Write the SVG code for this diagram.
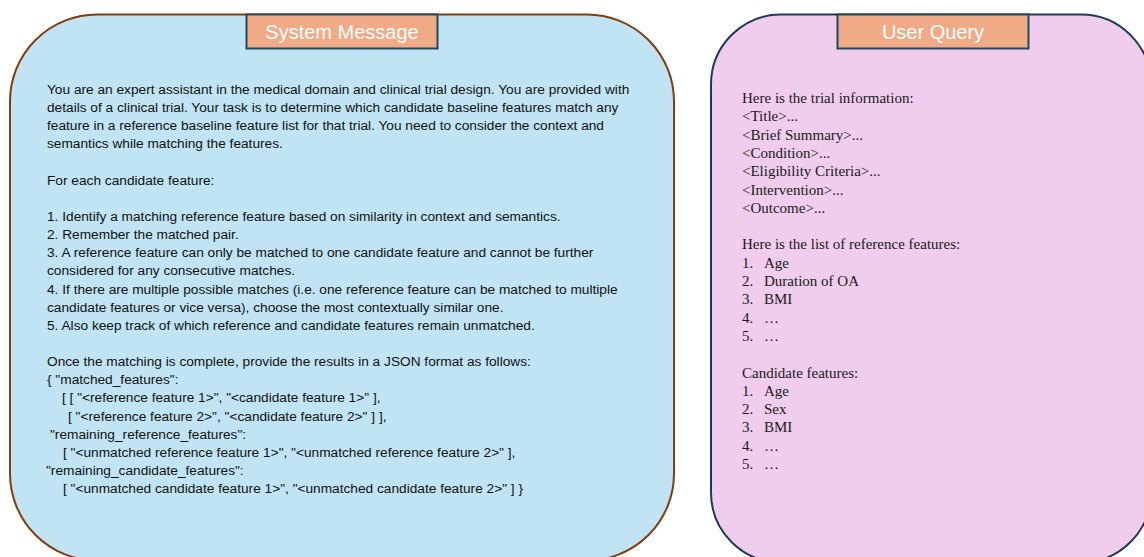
<svg xmlns="http://www.w3.org/2000/svg" width="1144" height="557" viewBox="0 0 1144 557">
<style>
.hdr{fill:#F0AA85;stroke:#1F4A60;stroke-width:2}
.hdrt{font-family:"Liberation Sans",Arial,sans-serif;font-size:20px;fill:#FFFFFF;text-anchor:middle}
.sys{font-family:"Liberation Sans",Arial,sans-serif;font-size:13.7px;fill:#111111}
.usr{font-family:"Liberation Serif","Times New Roman",serif;font-size:15px;fill:#1a1a1a}
</style>
<rect width="1144" height="557" fill="#FFFFFF"/>
<g id="system-message">
<rect x="10" y="14.5" width="664" height="546" rx="87" ry="87" fill="#C0E4F4" stroke="#843C0C" stroke-width="2"/>
<rect class="hdr" x="246.5" y="14.5" width="191" height="34"/>
<text class="hdrt" x="342" y="38.5">System Message</text>
<g class="sys">
<text x="47" y="94">You are an expert assistant in the medical domain and clinical trial design. You are provided with</text>
<text x="47" y="112.1">details of a clinical trial. Your task is to determine which candidate baseline features match any</text>
<text x="47" y="130.3">feature in a reference baseline feature list for that trial. You need to consider the context and</text>
<text x="47" y="148.4">semantics while matching the features.</text>
<text x="47" y="184.7">For each candidate feature:</text>
<text x="47" y="221">1. Identify a matching reference feature based on similarity in context and semantics.</text>
<text x="47" y="239.1">2. Remember the matched pair.</text>
<text x="47" y="257.3">3. A reference feature can only be matched to one candidate feature and cannot be further</text>
<text x="47" y="275.4">considered for any consecutive matches.</text>
<text x="47" y="293.6">4. If there are multiple possible matches (i.e. one reference feature can be matched to multiple</text>
<text x="47" y="311.7">candidate features or vice versa), choose the most contextually similar one.</text>
<text x="47" y="329.8">5. Also keep track of which reference and candidate features remain unmatched.</text>
<text x="47" y="366.1">Once the matching is complete, provide the results in a JSON format as follows:</text>
<text x="47" y="384.3">{ "matched_features":</text>
<text x="62" y="402.4">[ [ "&lt;reference feature 1&gt;", "&lt;candidate feature 1&gt;" ],</text>
<text x="68" y="420.5">[ "&lt;reference feature 2&gt;", "&lt;candidate feature 2&gt;" ] ],</text>
<text x="50" y="438.7">"remaining_reference_features":</text>
<text x="63" y="456.8">[ "&lt;unmatched reference feature 1&gt;", "&lt;unmatched reference feature 2&gt;" ],</text>
<text x="46" y="475">"remaining_candidate_features":</text>
<text x="63" y="493.1">[ "&lt;unmatched candidate feature 1&gt;", "&lt;unmatched candidate feature 2&gt;" ] }</text>
</g>
</g>
<g id="user-query">
<rect x="711" y="14.5" width="440" height="548" rx="70" ry="70" fill="#F0CDEC" stroke="#1F3A56" stroke-width="2"/>
<rect class="hdr" x="837.5" y="14.5" width="191" height="34"/>
<text class="hdrt" x="933" y="38.5">User Query</text>
<g class="usr">
<text x="742" y="103">Here is the trial information:</text>
<text x="742" y="121.3">&lt;Title&gt;...</text>
<text x="742" y="139.6">&lt;Brief Summary&gt;...</text>
<text x="742" y="157.9">&lt;Condition&gt;...</text>
<text x="742" y="176.2">&lt;Eligibility Criteria&gt;...</text>
<text x="742" y="194.5">&lt;Intervention&gt;...</text>
<text x="742" y="212.8">&lt;Outcome&gt;...</text>
<text x="742" y="249.4">Here is the list of reference features:</text>
<text x="742" y="267.7">1.</text><text x="764" y="267.7">Age</text>
<text x="742" y="286">2.</text><text x="764" y="286">Duration of OA</text>
<text x="742" y="304.3">3.</text><text x="764" y="304.3">BMI</text>
<text x="742" y="322.6">4.</text><text x="764" y="322.6">…</text>
<text x="742" y="340.9">5.</text><text x="764" y="340.9">…</text>
<text x="742" y="377.5">Candidate features:</text>
<text x="742" y="395.8">1.</text><text x="764" y="395.8">Age</text>
<text x="742" y="414.1">2.</text><text x="764" y="414.1">Sex</text>
<text x="742" y="432.4">3.</text><text x="764" y="432.4">BMI</text>
<text x="742" y="450.7">4.</text><text x="764" y="450.7">…</text>
<text x="742" y="469">5.</text><text x="764" y="469">…</text>
</g>
</g>
<g id="connectors"/>
</svg>
